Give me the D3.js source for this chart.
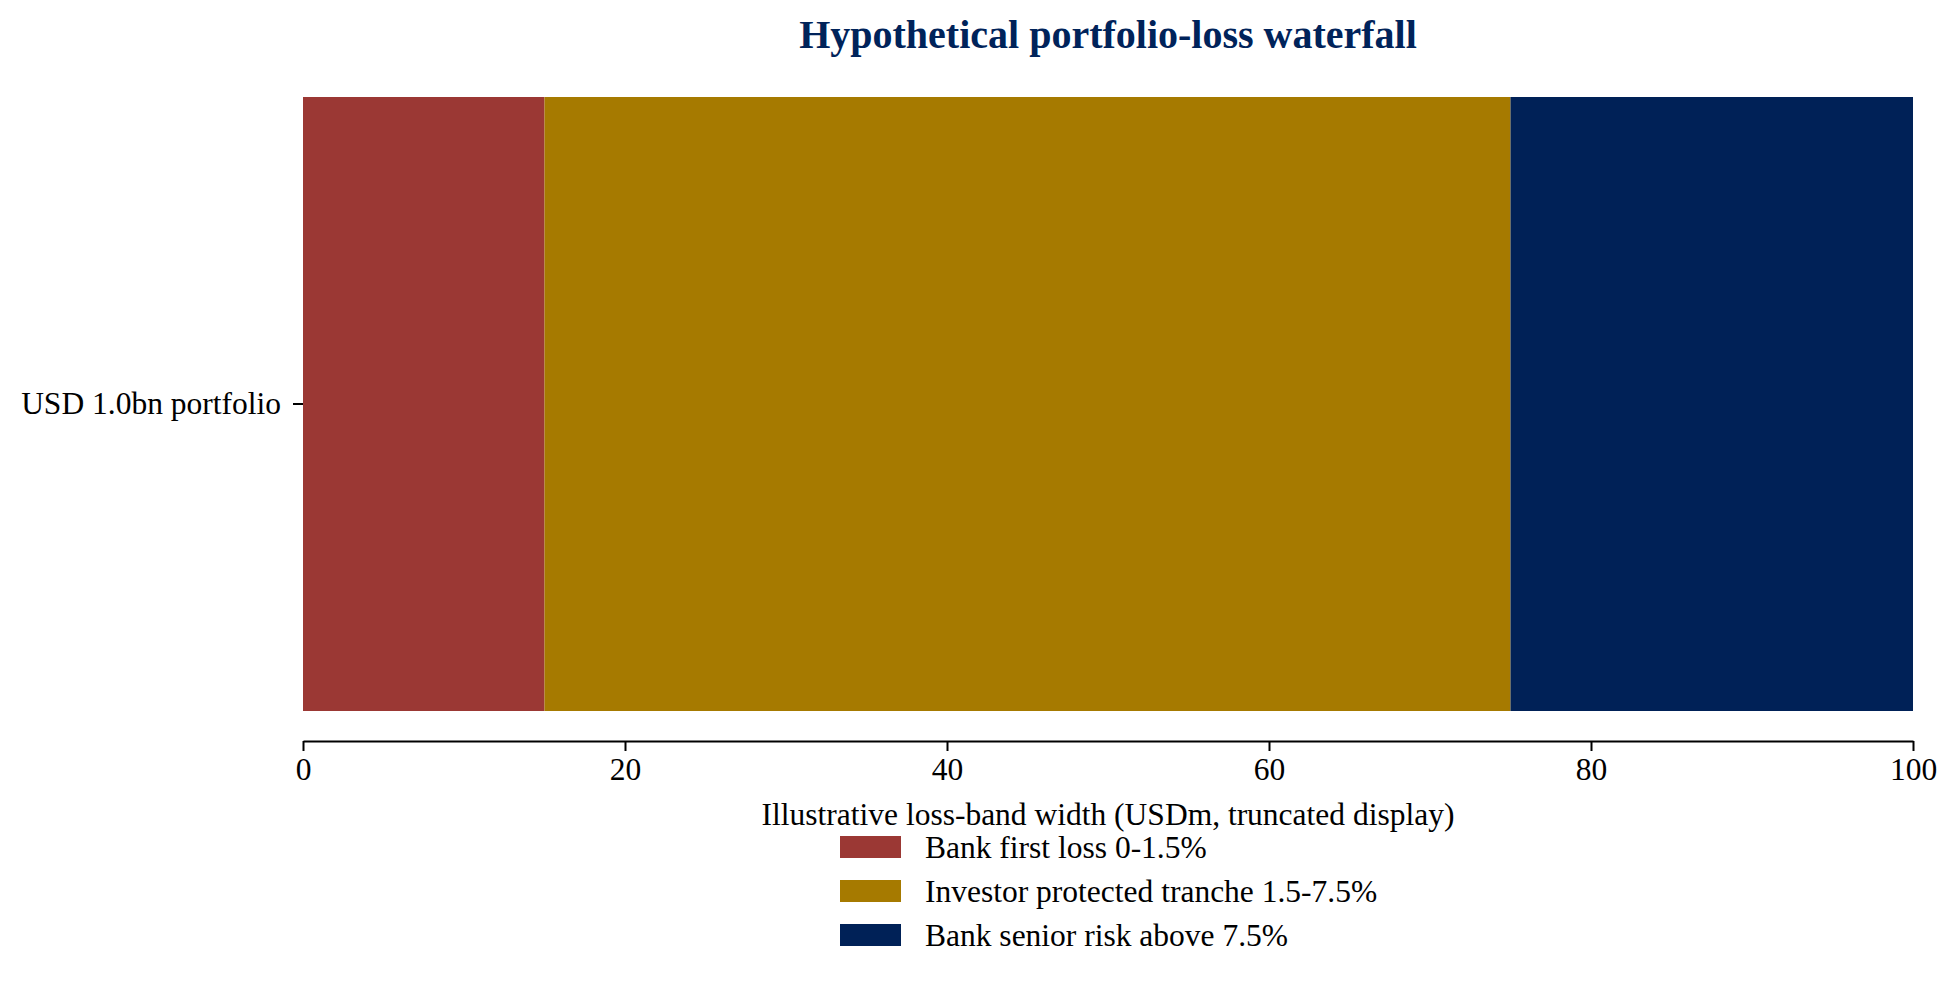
<!DOCTYPE html>
<html>
<head>
<meta charset="utf-8">
<script src="https://cdn.jsdelivr.net/npm/d3@7"></script>
<style>
    body { margin: 0; background: #fff; }
    svg text { font-family: "Liberation Serif", "Times New Roman", serif; }
</style>
</head>
<body>
<svg id="chart"></svg>
<script>
// data
var categories = ["USD 1.0bn portfolio"];
var segmentNames = ["Bank first loss 0-1.5%", "Investor protected tranche 1.5-7.5%", "Bank senior risk above 7.5%"];
var segmentValues = [15, 60, 25];
var xTicks = [0, 20, 40, 60, 80, 100];

var palette = ["#9b3834", "#a67a00", "#002157"];

var W = 1959, H = 985;
var plotLeft = 303, plotRight = 1913, plotTop = 97, plotBottom = 711;
var fs = 31.5;

var svg = d3.select("#chart").attr("width", W).attr("height", H);

var x = d3.scaleLinear().domain([0, 100]).range([plotLeft, plotRight]);
var y = d3.scaleBand().domain(categories).range([plotTop, plotBottom]).padding(0);

// stacked segments
var starts = [0];
segmentValues.forEach(function(v, i) { starts.push(starts[i] + v); });
var segs = segmentValues.map(function(v, i) {
    return {name: segmentNames[i], x0: starts[i], x1: starts[i + 1], color: palette[i]};
});

svg.selectAll("rect.seg")
   .data(segs)
   .enter()
   .append("rect")
   .attr("class", "seg")
   .attr("x", function(d) { return x(d.x0); })
   .attr("width", function(d) { return x(d.x1) - x(d.x0); })
   .attr("y", y(categories[0]))
   .attr("height", y.bandwidth())
   .attr("fill", function(d) { return d.color; });

// x axis, detached below the bar
var xAxis = svg.append("g")
    .attr("transform", "translate(0,741)")
    .call(d3.axisBottom(x).tickValues(xTicks).tickSize(10).tickSizeOuter(0).tickPadding(7));
xAxis.select(".domain").attr("stroke-width", 2);
xAxis.selectAll(".tick line").attr("stroke-width", 2);
xAxis.selectAll(".tick text").attr("font-size", fs).attr("fill", "#000");

// y axis, ticks only
var yAxis = svg.append("g")
    .attr("transform", "translate(" + plotLeft + ",0)")
    .call(d3.axisLeft(y).tickSize(10).tickSizeOuter(0).tickPadding(12));
yAxis.select(".domain").remove();
yAxis.selectAll(".tick line").attr("stroke-width", 2);
yAxis.selectAll(".tick text").attr("font-size", fs).attr("fill", "#000");

// title and axis label
svg.append("text")
   .attr("x", (plotLeft + plotRight) / 2)
   .attr("y", 48)
   .attr("text-anchor", "middle")
   .attr("font-size", 40)
   .attr("font-weight", "bold")
   .attr("fill", "#00235a")
   .text("Hypothetical portfolio-loss waterfall");

svg.append("text")
   .attr("x", (plotLeft + plotRight) / 2)
   .attr("y", 825)
   .attr("text-anchor", "middle")
   .attr("font-size", fs)
   .attr("fill", "#000")
   .text("Illustrative loss-band width (USDm, truncated display)");

// legend
var legend = svg.append("g").attr("transform", "translate(840,836)");
var items = legend.selectAll("g.item")
    .data(segs)
    .enter()
    .append("g")
    .attr("class", "item")
    .attr("transform", function(d, i) { return "translate(0," + (i * 44) + ")"; });
items.append("rect")
     .attr("width", 61)
     .attr("height", 22)
     .attr("fill", function(d) { return d.color; });
items.append("text")
     .attr("x", 85)
     .attr("y", 22)
     .attr("font-size", fs)
     .attr("fill", "#000")
     .text(function(d) { return d.name; });
</script>
</body>
</html>
